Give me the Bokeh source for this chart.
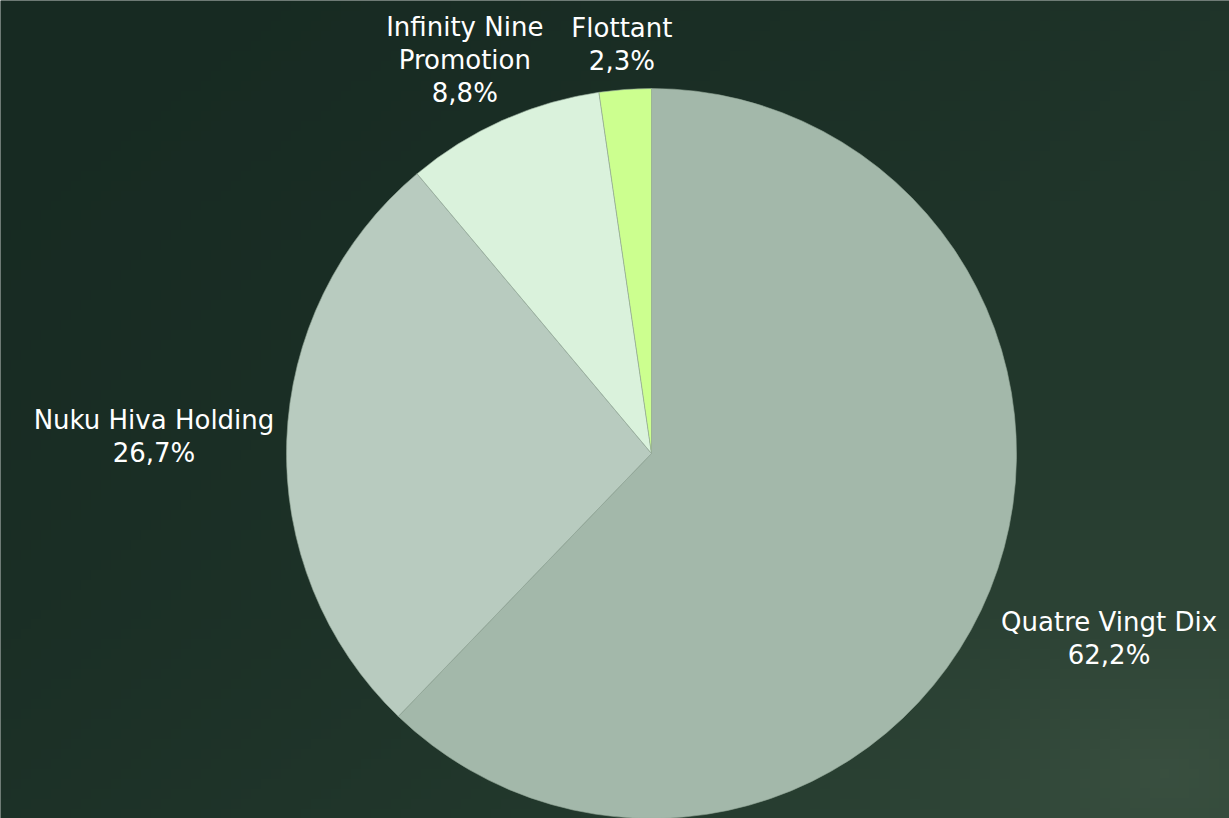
import numpy as np
from bokeh.plotting import figure
from bokeh.models import ColumnDataSource
from bokeh.core.properties import value
from bokeh.embed import file_html
from bokeh.resources import INLINE

# ---- data ----
labels = ["Quatre Vingt Dix", "Nuku Hiva Holding", "Infinity Nine\nPromotion", "Flottant"]
shares = [62.2, 26.7, 8.8, 2.3]
pct_labels = ["62,2%", "26,7%", "8,8%", "2,3%"]
colors = ["#a3b8aa", "#b8cbbf", "#daf2dc", "#ccff8f"]

W, H = 1229, 818
CX, CY, R = 651, H - 453, 365
FONT = 26
LINE_H = 33

p = figure(width=W, height=H, x_range=(0, W), y_range=(0, H),
           output_backend="svg", toolbar_location=None, min_border=0)
p.axis.visible = False
p.grid.visible = False
p.outline_line_color = None
p.background_fill_color = "#1b2e26"
p.border_fill_color = "#1b2e26"

# background gradient
nx, ny = 123, 82
xs = np.linspace(0, 1, nx)
ys = np.linspace(0, 1, ny)  # 0 = bottom
X, Y = np.meshgrid(xs, ys)
Yt = 1 - Y  # 0 at top
t = np.clip((X * 0.55 + Yt * 0.45), 0, 1)
c0 = np.array([0x17, 0x2a, 0x22], float)
c1 = np.array([0x2c, 0x44, 0x35], float)
base = c0[None, None, :] + (c1 - c0)[None, None, :] * (t ** 1.6)[..., None]
d = np.sqrt(((X - 0.95) * 1.2) ** 2 + ((Yt - 0.95)) ** 2)
glow = np.clip(1 - d / 0.55, 0, 1) ** 2
c2 = np.array([0x40, 0x55, 0x45], float)
img_rgb = base + (c2[None, None, :] - base) * glow[..., None] * 0.7
img = np.zeros((ny, nx), dtype=np.uint32)
view = img.view(dtype=np.uint8).reshape((ny, nx, 4))
view[..., 0] = img_rgb[..., 0].astype(np.uint8)
view[..., 1] = img_rgb[..., 1].astype(np.uint8)
view[..., 2] = img_rgb[..., 2].astype(np.uint8)
view[..., 3] = 255
p.image_rgba(image=[img], x=0, y=0, dw=W, dh=H)

# wedges
fr = np.array(shares) / sum(shares)
cum = np.concatenate([[0], np.cumsum(fr)])
starts = np.pi / 2 - 2 * np.pi * cum[:-1]
ends = np.pi / 2 - 2 * np.pi * cum[1:]
src = ColumnDataSource(dict(start=starts, end=ends, color=colors))
p.wedge(x=CX, y=CY, radius=R, start_angle="start", end_angle="end",
        direction="clock", fill_color="color", line_color="#93a898",
        line_width=0.6, source=src)

# labels (placed outside, aligned at end)
mids = (starts + ends) / 2
txt, lx, ly = [], [], []
off = 8
for lab, pc, a in zip(labels, pct_labels, mids):
    lines = lab.split("\n") + [pc]
    hw = 0.56 * FONT * max(len(s) for s in lines) / 2
    hh = len(lines) * LINE_H / 2
    dist = R + off + abs(hw * np.cos(a)) + abs(hh * np.sin(a))
    x = CX + dist * np.cos(a)
    y = CY + dist * np.sin(a)
    y = min(y, H - 10 - hh)
    for i, s in enumerate(lines):
        txt.append(s)
        lx.append(x)
        ly.append(y + hh - LINE_H * (i + 0.5))
p.text(x=lx, y=ly, text=txt, text_align="center", text_baseline="middle",
       text_font=value("DejaVu Sans"), text_font_size=f"{FONT}px", text_color="#ffffff")

open("out.html", "w").write(file_html(p, INLINE))
